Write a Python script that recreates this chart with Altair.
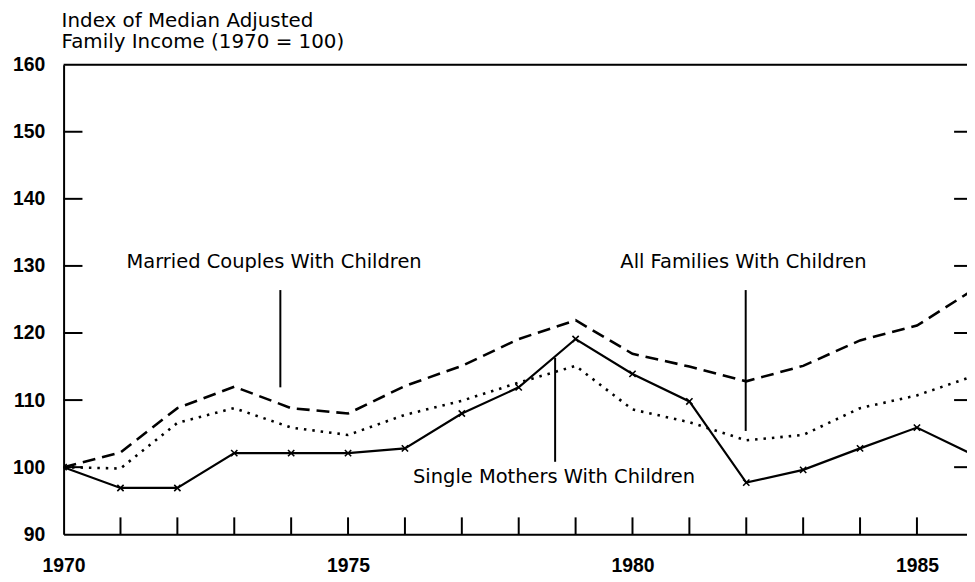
import altair as alt
import pandas as pd

years = list(range(1970, 1987))
married = [100, 102.2, 108.8, 112.0, 108.8, 108.0, 112.1, 115.1, 119.1, 121.9,
           116.9, 115.0, 112.8, 115.1, 118.9, 121.1, 126.5]
all_fam = [100, 99.8, 106.6, 108.8, 105.9, 104.8, 107.8, 109.9, 112.6, 115.1,
           108.6, 106.7, 104.0, 104.8, 108.8, 110.7, 113.6]
single = [100, 96.9, 96.9, 102.1, 102.1, 102.1, 102.8, 108.0, 111.9, 119.1,
          113.9, 109.8, 97.7, 99.6, 102.8, 105.9, 101.8]

title_lines = ["Index of Median Adjusted", "Family Income (1970 = 100)"]
y_ticks = [90, 100, 110, 120, 130, 140, 150, 160]
inner_y_ticks = [100, 110, 120, 130, 140, 150]
x_label_years = [1970, 1975, 1980, 1985]
inner_x_ticks = list(range(1971, 1986))

ann_text = ["Married Couples With Children", "All Families With Children",
            "Single Mothers With Children"]
ann_x = [1973.70, 1981.95, 1978.62]
ann_y = [130.55, 130.55, 98.6]
ptr_x = [1973.81, 1981.99, 1978.64]
ptr_y1 = [126.4, 126.4, 116.3]
ptr_y2 = [111.9, 105.4, 100.8]

W, H = 910, 473
X_MAX = 1985.88
LABEL_FONT = "Liberation Sans"
TEXT_FONT = "DejaVu Sans"

df = pd.DataFrame({"year": years, "married": married, "all": all_fam, "single": single})
xs = alt.Scale(domain=[1970, X_MAX], nice=False, zero=False)
ys = alt.Scale(domain=[90, 160], nice=False, zero=False)

xaxis = alt.Axis(values=x_label_years, format="d", title=None, grid=False, ticks=False,
                 domainColor="black", domainWidth=2, labelFont=LABEL_FONT,
                 labelFontSize=19.5, labelFontWeight="bold", labelColor="black",
                 labelPadding=23, labelFlush=False)
yaxis = alt.Axis(values=y_ticks, title=None, grid=False, ticks=False,
                 domainColor="black", domainWidth=2, labelFont=LABEL_FONT,
                 labelFontSize=19.5, labelFontWeight="bold", labelColor="black",
                 labelPadding=19, labelFlush=False)


def X(field):
    return alt.X(field, scale=xs, axis=xaxis)


def Y(field):
    return alt.Y(field, scale=ys, axis=yaxis)


base = alt.Chart(df)

married_line = base.mark_line(color="black", strokeWidth=2.6, strokeDash=[13, 7], clip=True).encode(
    x=X("year:Q"), y=Y("married:Q"))
all_line = base.mark_line(color="black", strokeWidth=2.6, strokeDash=[2.5, 6], clip=True).encode(
    x=X("year:Q"), y=Y("all:Q"))
single_line = base.mark_line(color="black", strokeWidth=2.2, clip=True).encode(
    x=X("year:Q"), y=Y("single:Q"))
single_pts = base.mark_point(shape="M-1,-1L1,1M-1,1L1,-1", size=40, filled=False,
                             color="black", strokeWidth=1.6, clip=True, opacity=1).encode(
    x=X("year:Q"), y=Y("single:Q"))

ytick_df = pd.DataFrame({"v": inner_y_ticks})
left_ticks = alt.Chart(ytick_df).mark_rule(color="black", strokeWidth=2).encode(
    x=alt.value(0), x2=alt.value(19), y=Y("v:Q"))
right_ticks = alt.Chart(ytick_df).mark_rule(color="black", strokeWidth=2).encode(
    x=alt.value(W - 13), x2=alt.value(W), y=Y("v:Q"))
xtick_df = pd.DataFrame({"t": inner_x_ticks})
bottom_ticks = alt.Chart(xtick_df).mark_rule(color="black", strokeWidth=2).encode(
    x=X("t:Q"), y=alt.value(H), y2=alt.value(H - 17))
top_border = alt.Chart(pd.DataFrame({"a": [0]})).mark_rule(color="black", strokeWidth=2).encode(
    x=alt.value(0), x2=alt.value(W), y=alt.value(0))

ann_df = pd.DataFrame({"x": ann_x, "y": ann_y, "text": ann_text})
ann = alt.Chart(ann_df).mark_text(font=TEXT_FONT, fontSize=19.6, color="black",
                                  align="center", baseline="middle").encode(
    x=X("x:Q"), y=Y("y:Q"), text="text:N")
ptr_df = pd.DataFrame({"x": ptr_x, "y1": ptr_y1, "y2": ptr_y2})
ptrs = alt.Chart(ptr_df).mark_rule(color="black", strokeWidth=2).encode(
    x=X("x:Q"), y=Y("y1:Q"), y2="y2:Q")

title1 = alt.Chart(pd.DataFrame({"t": [title_lines[0]]})).mark_text(
    font=TEXT_FONT, fontSize=20, color="black", align="left", baseline="middle").encode(
    x=alt.value(-2), y=alt.value(-44), text="t:N")
title2 = alt.Chart(pd.DataFrame({"t": [title_lines[1]]})).mark_text(
    font=TEXT_FONT, fontSize=20, color="black", align="left", baseline="middle").encode(
    x=alt.value(-2), y=alt.value(-23), text="t:N")

chart = alt.layer(
    married_line, all_line, single_line, single_pts,
    left_ticks, right_ticks, bottom_ticks, top_border, ptrs, ann, title1, title2,
).properties(
    width=W, height=H,
    autosize=alt.AutoSizeParams(type="none"),
    padding={"left": 56, "top": 55, "right": 0, "bottom": 44},
).configure_view(strokeWidth=0, stroke="transparent").configure(background="white")

chart.save("out.html", embed_options={"renderer": "svg", "actions": False})
